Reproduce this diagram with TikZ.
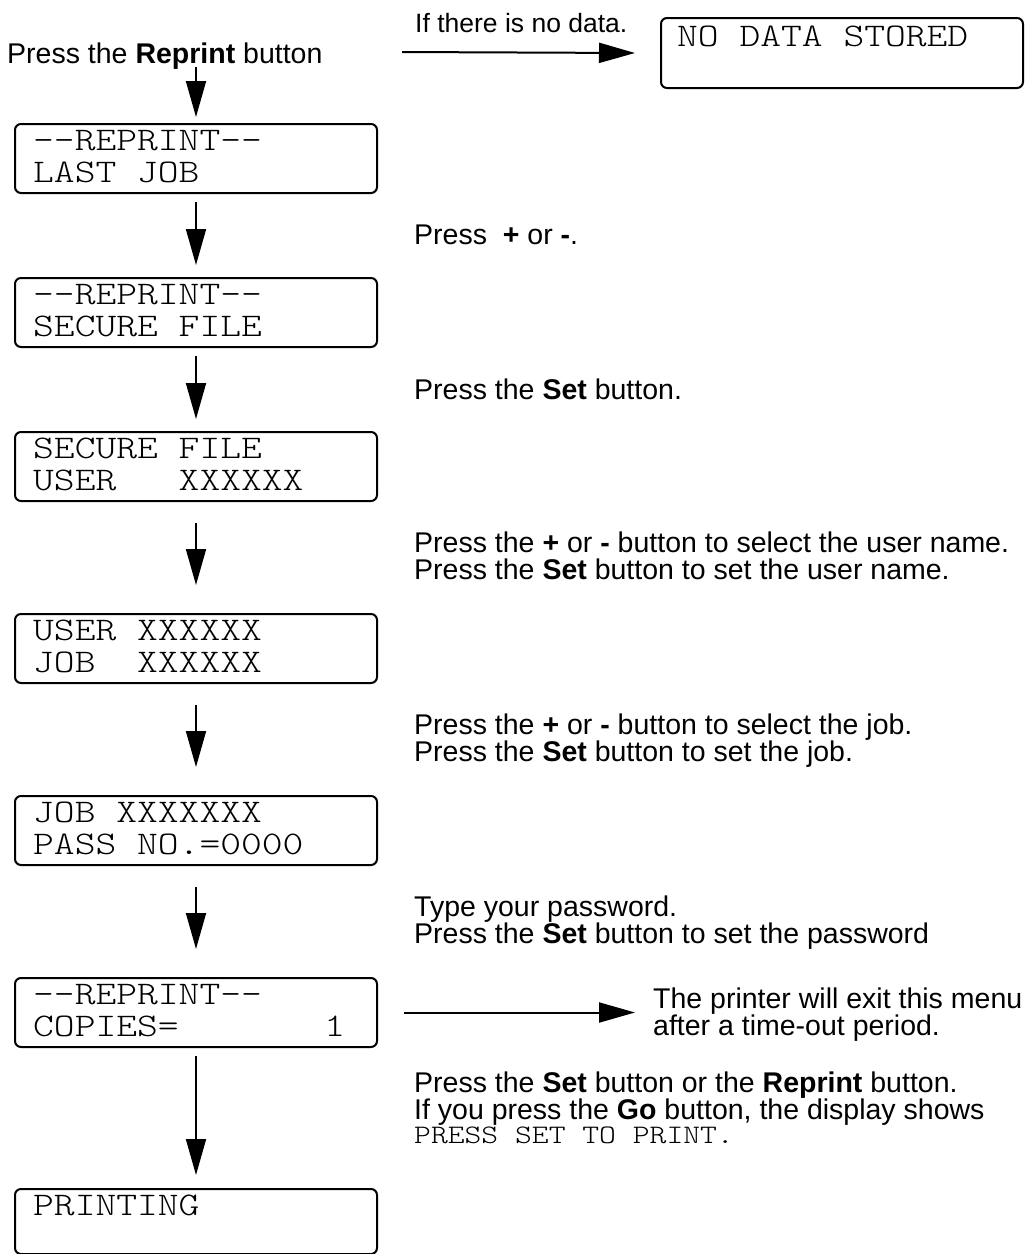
\documentclass[tikz,border=0pt]{standalone}
\usepackage{fontspec}
\setmainfont{Liberation Sans}
\setmonofont{Latin Modern Mono Light}[FakeStretch=1.2]
\usetikzlibrary{arrows.meta,calc}
\newcommand\tsp{\hphantom{X}}
\newcommand\mystack[1]{\begin{tabular}[t]{@{}l@{}}#1\end{tabular}}
\begin{document}
\begin{tikzpicture}[x=1pt,y=-1pt,
  lcd/.style={draw, line width=2pt, rounded corners=6pt, minimum width=362pt, minimum height=69pt, inner sep=0pt, anchor=north west},
  lcdtext/.style={anchor=base west, inner sep=0pt, font=\fontsize{33}{32}\selectfont\ttfamily},
  note/.style={anchor=base west, inner sep=0pt, font=\fontsize{28.5}{24}\selectfont},
  arr/.style={line width=2pt, -{Triangle[length=36pt,width=20pt]}},
]
\useasboundingbox (0,0) rectangle (1035,1254);

% top
\node[note] (start) at (7,63) {Press the \textbf{Reprint} button};
\node[note, font=\fontsize{26.5}{23}\selectfont] (nodatanote) at (415,32) {If there is no data.};
\node[lcd, minimum height=70pt] (nd) at (660,17) {};
\node[lcdtext] (ndt) at ($(nd.north west)+(17,29)$) {NO\tsp DATA\tsp STORED};
\coordinate (t0) at (402,52);
\draw[arr] (t0) -- ($(nd.west)+(-25,0)$);

% boxes
\node[lcd] (b1) at (14,123) {};
\node[lcd] (b2) at (14,277) {};
\node[lcd] (b3) at (14,431) {};
\node[lcd] (b4) at (14,613) {};
\node[lcd] (b5) at (14,795) {};
\node[lcd] (b6) at (14,977) {};
\node[lcd, minimum height=65pt] (b7) at (14,1188) {};

\node[lcdtext] (b1t) at ($(b1.north west)+(19,27)$) {\mystack{-{}-REPRINT-{}-\\LAST\tsp JOB}};
\node[lcdtext] (b2t) at ($(b2.north west)+(19,27)$) {\mystack{-{}-REPRINT-{}-\\SECURE\tsp FILE}};
\node[lcdtext] (b3t) at ($(b3.north west)+(19,27)$) {\mystack{SECURE\tsp FILE\\USER\tsp\tsp\tsp XXXXXX}};
\node[lcdtext] (b4t) at ($(b4.north west)+(19,27)$) {\mystack{USER\tsp XXXXXX\\JOB\tsp\tsp XXXXXX}};
\node[lcdtext] (b5t) at ($(b5.north west)+(19,27)$) {\mystack{JOB\tsp XXXXXXX\\PASS\tsp NO.=0000}};
\node[lcdtext] (b6t) at ($(b6.north west)+(19,27)$) {\mystack{-{}-REPRINT-{}-\\COPIES=\tsp\tsp\tsp\tsp\tsp\tsp\tsp 1}};
\node[lcdtext] (b7t) at ($(b7.north west)+(19,27)$) {PRINTING};

% vertical arrows
\draw[arr] ($(start.base -| b1.north)+(0,4)$) -- ($(b1.north)+(0,-6)$);
\draw[arr] ($(b1.south)+(0,8)$) -- ($(b2.north)+(0,-12)$);
\draw[arr] ($(b2.south)+(0,8)$) -- ($(b3.north)+(0,-12)$);
\draw[arr] ($(b3.south)+(0,21)$) -- ($(b4.north)+(0,-28)$);
\draw[arr] ($(b4.south)+(0,21)$) -- ($(b5.north)+(0,-28)$);
\draw[arr] ($(b5.south)+(0,21)$) -- ($(b6.north)+(0,-28)$);
\draw[arr] ($(b6.south)+(0,8)$) -- ($(b7.north)+(0,-13)$);

% notes
\node[note] (n1) at (414,244) {Press\ \ \textbf{+} or \textbf{-}.};
\node[note] (n2) at (414,399) {Press the \textbf{Set} button.};
\node[note] (n3) at (414,552) {\mystack{Press the \textbf{+} or \textbf{-} button to select the user name.\\Press the \textbf{Set} button to set the user name.}};
\node[note] (n4) at (414,734) {\mystack{Press the \textbf{+} or \textbf{-} button to select the job.\\Press the \textbf{Set} button to set the job.}};
\node[note] (n5) at (414,916) {\mystack{Type your password.\\Press the \textbf{Set} button to set the password}};
\node[note] (exitnote) at (653,1008) {\mystack{The printer will exit this menu\\after a time-out period.}};
\draw[arr] ($(b6.east)+(26,0)$) -- ($(b6.east -| exitnote.west)+(-18,0)$);
\node[note] (n6) at (414,1092) {\mystack{Press the \textbf{Set} button or the \textbf{Reprint} button.\\If you press the \textbf{Go} button, the display shows\\{\fontsize{26.7}{23}\selectfont\ttfamily PRESS\tsp SET\tsp TO\tsp PRINT.}}};
\end{tikzpicture}
\end{document}
